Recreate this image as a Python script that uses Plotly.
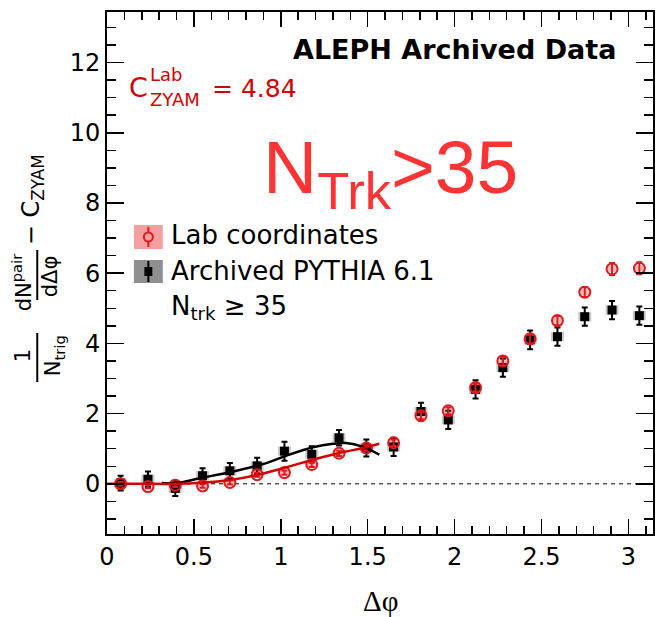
import numpy as np
import plotly.graph_objects as go

# ---------------- data ----------------
dphi = [0.0785, 0.2356, 0.3927, 0.5498, 0.7069, 0.8639, 1.0210, 1.1781, 1.3352, 1.4923,
        1.6493, 1.8064, 1.9635, 2.1206, 2.2777, 2.4347, 2.5918, 2.7489, 2.9060, 3.0631]

lab_y = [0.00, -0.08, -0.04, -0.06, 0.04, 0.26, 0.32, 0.55, 0.87, 1.02,
         1.17, 1.94, 2.08, 2.74, 3.50, 4.13, 4.65, 5.46, 6.12, 6.14]
lab_err = [0.05, 0.05, 0.05, 0.05, 0.06, 0.06, 0.06, 0.07, 0.08, 0.08,
           0.09, 0.10, 0.10, 0.11, 0.12, 0.13, 0.13, 0.14, 0.17, 0.17]
lab_sys = [0.08] * 20

pyt_y = [0.02, 0.13, -0.13, 0.23, 0.37, 0.51, 0.93, 0.84, 1.31, 1.02,
         1.05, 2.06, 1.82, 2.69, 3.31, 4.10, 4.19, 4.76, 4.95, 4.79]
pyt_err = [0.21, 0.22, 0.22, 0.21, 0.22, 0.23, 0.27, 0.23, 0.22, 0.24,
           0.26, 0.25, 0.26, 0.26, 0.26, 0.27, 0.26, 0.26, 0.26, 0.26]
pyt_sys = [0.13] * 20

# fit curves
fit_lab_x = [0.0, 0.20, 0.40, 0.535, 0.70, 0.865, 1.018, 1.18, 1.33, 1.49, 1.567]
fit_lab_y = [0.0, 0.0, 0.0, 0.03, 0.10, 0.25, 0.45, 0.68, 0.87, 1.04, 1.14]
fit_pyt_x = [0.315, 0.40, 0.535, 0.726, 0.917, 1.032, 1.185, 1.30, 1.376, 1.47, 1.567]
fit_pyt_y = [0.02, 0.02, 0.16, 0.35, 0.59, 0.80, 1.04, 1.14, 1.16, 1.06, 0.83]

x_range = [0, np.pi]
y_range = [-1.43, 13.44]
x_ticks = [0, 0.5, 1, 1.5, 2, 2.5, 3]
x_tick_labels = ["0", "0.5", "1", "1.5", "2", "2.5", "3"]
y_ticks = [0, 2, 4, 6, 8, 10, 12]
y_tick_labels = ["0", "2", "4", "6", "8", "10", "12"]

# ---------------- layout geometry ----------------
W, H = 656, 617
ML, MR, MT, MB = 107, 1, 12, 83
PW = W - ML - MR
PH = H - MT - MB


def px(xp):
    return (xp - ML) / PW


def py(yp):
    return (H - MB - yp) / PH


RED = "#e0191c"
DRED = "#d40000"
SANS = "DejaVu Sans"

fig = go.Figure()

# systematic boxes
fig.add_trace(go.Bar(x=dphi, y=[2 * s for s in pyt_sys], base=[v - s for v, s in zip(pyt_y, pyt_sys)],
                     width=0.075, marker=dict(color="#a0a0a0", line=dict(width=0)), opacity=0.55,
                     showlegend=False, hoverinfo="skip"))
fig.add_trace(go.Bar(x=dphi, y=[2 * s for s in lab_sys], base=[v - s for v, s in zip(lab_y, lab_sys)],
                     width=0.06, marker=dict(color="#f5a0a0", line=dict(width=0)), opacity=0.7,
                     showlegend=False, hoverinfo="skip"))

# points
fig.add_trace(go.Scatter(x=dphi, y=pyt_y, mode="markers",
                         marker=dict(symbol="square", size=9, color="black"),
                         error_y=dict(type="data", array=pyt_err, color="black", thickness=2, width=3),
                         showlegend=False))
fig.add_trace(go.Scatter(x=dphi, y=lab_y, mode="markers",
                         marker=dict(symbol="circle-open", size=11, color=RED, line=dict(width=2, color=RED)),
                         error_y=dict(type="data", array=lab_err, color=RED, thickness=2, width=3),
                         showlegend=False))

# fit curves
fig.add_trace(go.Scatter(x=fit_pyt_x, y=fit_pyt_y, mode="lines", line=dict(color="black", width=2.5, shape="spline"),
                         showlegend=False))
fig.add_trace(go.Scatter(x=fit_lab_x, y=fit_lab_y, mode="lines", line=dict(color=DRED, width=2.5, shape="spline"),
                         showlegend=False))

shapes = []
# zero dashed line
shapes.append(dict(type="line", xref="paper", yref="y", x0=0, x1=1, y0=0, y1=0,
                   line=dict(color="black", width=1, dash="4px,4px"), layer="below"))

annotations = []

# ---- y title (fraction style) ----
annotations.append(dict(text="1", x=px(23), y=py(356), xref="paper", yref="paper", showarrow=False,
                        textangle=-90, font=dict(family=SANS, size=21, color="black"),
                        xanchor="center", yanchor="middle"))
annotations.append(dict(text="N<sub>trig</sub>", x=px(54), y=py(356), xref="paper", yref="paper", showarrow=False,
                        textangle=-90, font=dict(family=SANS, size=21, color="black"),
                        xanchor="center", yanchor="middle"))
annotations.append(dict(text="dN<sup>pair</sup>", x=px(22), y=py(282), xref="paper", yref="paper", showarrow=False,
                        textangle=-90, font=dict(family=SANS, size=21, color="black"),
                        xanchor="center", yanchor="middle"))
annotations.append(dict(text="dΔφ", x=px(50), y=py(276), xref="paper", yref="paper", showarrow=False,
                        textangle=-90, font=dict(family=SANS, size=21, color="black"),
                        xanchor="center", yanchor="middle"))
annotations.append(dict(text="− C<sub>ZYAM</sub>", x=px(32), y=py(200), xref="paper", yref="paper", showarrow=False,
                        textangle=-90, font=dict(family=SANS, size=24, color="black"),
                        xanchor="center", yanchor="middle"))
shapes.append(dict(type="line", xref="paper", yref="paper", x0=px(37), x1=px(37), y0=py(333), y1=py(382),
                   line=dict(color="black", width=2)))
shapes.append(dict(type="line", xref="paper", yref="paper", x0=px(37), x1=px(37), y0=py(250), y1=py(300),
                   line=dict(color="black", width=2)))

# x title
annotations.append(dict(text="Δφ", x=0.5, y=py(601), xref="paper", yref="paper", showarrow=False,
                        font=dict(family="Liberation Serif", size=29, color="black"),
                        xanchor="center", yanchor="middle"))

# ---- in-plot texts ----
annotations.append(dict(text="<b>ALEPH Archived Data</b>", x=px(620), y=py(49), xref="paper", yref="paper",
                        showarrow=False, font=dict(family=SANS, size=27, color="black"),
                        xanchor="right", yanchor="middle"))
annotations.append(dict(text="C", x=px(127), y=py(87), xref="paper", yref="paper", showarrow=False,
                        font=dict(family=SANS, size=27, color=DRED), xanchor="left", yanchor="middle"))
annotations.append(dict(text="Lab", x=px(148), y=py(74), xref="paper", yref="paper", showarrow=False,
                        font=dict(family=SANS, size=18, color=DRED), xanchor="left", yanchor="middle"))
annotations.append(dict(text="ZYAM", x=px(148), y=py(100), xref="paper", yref="paper", showarrow=False,
                        font=dict(family=SANS, size=18, color=DRED), xanchor="left", yanchor="middle"))
annotations.append(dict(text="= 4.84", x=px(210), y=py(88), xref="paper", yref="paper", showarrow=False,
                        font=dict(family=SANS, size=25, color=DRED), xanchor="left", yanchor="middle"))
annotations.append(dict(text="N<sub>Trk</sub>>35", x=px(262), y=py(172), xref="paper", yref="paper",
                        showarrow=False, font=dict(family="Liberation Sans", size=75, color="#ff3333"),
                        xanchor="left", yanchor="middle"))

# ---- legend (drawn by hand) ----
shapes.append(dict(type="rect", xref="paper", yref="paper", x0=px(134), x1=px(163), y0=py(225), y1=py(249),
                   fillcolor="#f5a0a0", line=dict(width=0)))
shapes.append(dict(type="line", xref="paper", yref="paper", x0=px(148.5), x1=px(148.5), y0=py(227), y1=py(247),
                   line=dict(color=RED, width=2)))
shapes.append(dict(type="circle", xref="paper", yref="paper", x0=px(144), x1=px(153), y0=py(232.5), y1=py(241.5),
                   fillcolor="#f5a0a0", line=dict(color=RED, width=2)))
shapes.append(dict(type="rect", xref="paper", yref="paper", x0=px(134), x1=px(163), y0=py(260), y1=py(283),
                   fillcolor="#8f8f8f", line=dict(width=0)))
shapes.append(dict(type="line", xref="paper", yref="paper", x0=px(148.5), x1=px(148.5), y0=py(261), y1=py(282),
                   line=dict(color="black", width=2)))
shapes.append(dict(type="rect", xref="paper", yref="paper", x0=px(144.5), x1=px(152.5), y0=py(267), y1=py(276),
                   fillcolor="black", line=dict(width=0)))
annotations.append(dict(text="Lab coordinates", x=px(169), y=py(235), xref="paper", yref="paper", showarrow=False,
                        font=dict(family=SANS, size=26, color="black"), xanchor="left", yanchor="middle"))
annotations.append(dict(text="Archived PYTHIA 6.1", x=px(169), y=py(271), xref="paper", yref="paper",
                        showarrow=False, font=dict(family=SANS, size=26, color="black"),
                        xanchor="left", yanchor="middle"))
annotations.append(dict(text="N<sub>trk</sub> ≥ 35", x=px(169), y=py(307), xref="paper", yref="paper",
                        showarrow=False, font=dict(family=SANS, size=26, color="black"),
                        xanchor="left", yanchor="middle"))

axis_common = dict(showline=True, linecolor="black", linewidth=2, mirror="allticks",
                   ticks="inside", tickcolor="black", tickwidth=1.5, showgrid=False, zeroline=False,
                   tickfont=dict(family=SANS, size=24, color="black"))

fig.update_layout(
    width=W, height=H,
    margin=dict(l=ML, r=MR, t=MT, b=MB, pad=0),
    paper_bgcolor="white", plot_bgcolor="white",
    barmode="overlay", showlegend=False, hovermode=False,
    xaxis=dict(range=x_range, tickvals=x_ticks, ticktext=x_tick_labels, ticklen=15,
               minor=dict(dtick=0.1, tick0=0, ticklen=8, ticks="inside", tickcolor="black", tickwidth=1.5),
               **axis_common),
    yaxis=dict(range=y_range, tickvals=y_ticks, ticktext=y_tick_labels, ticklen=17,
               minor=dict(dtick=0.5, tick0=0, ticklen=9, ticks="inside", tickcolor="black", tickwidth=1.5),
               **axis_common),
    shapes=shapes, annotations=annotations,
)

fig.write_html("out.html", config={"displayModeBar": False, "staticPlot": True},
               post_script="document.body.style.margin='0';document.body.style.padding='0';"
                           "document.documentElement.style.overflow='hidden';")
